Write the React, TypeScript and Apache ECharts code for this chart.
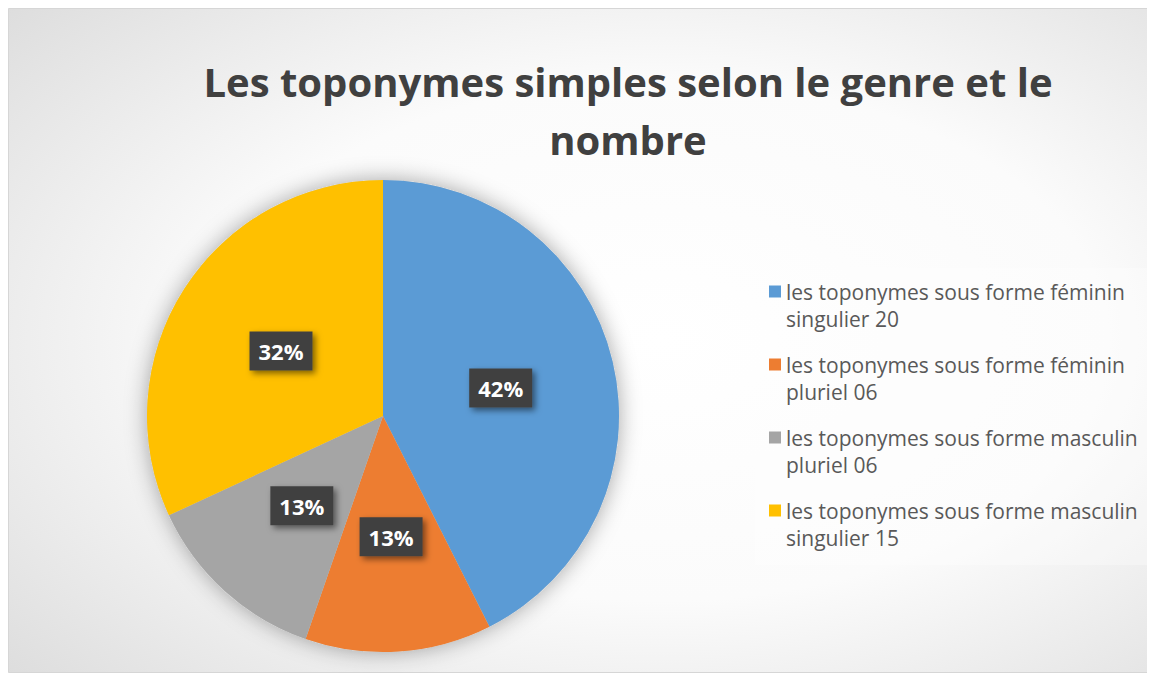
import React, { useEffect, useRef } from "react";
import * as echarts from "echarts";

const titleText = "Les toponymes simples selon le genre et le\nnombre";
const categories = [
  "les toponymes sous forme féminin singulier 20",
  "les toponymes sous forme féminin pluriel 06",
  "les toponymes sous forme masculin pluriel 06",
  "les toponymes sous forme masculin singulier 15",
];
const values = [20, 6, 6, 15];
const colors = ["#5B9BD5", "#ED7D31", "#A5A5A5", "#FFC000"];

const W = 1145;
const H = 665;

export default function App() {
  const ref = useRef<HTMLDivElement>(null);
  useEffect(() => {
    if (!ref.current) return;
    const chart = echarts.init(ref.current, null, { renderer: "svg" });
    const total = values.reduce((a, b) => a + b, 0);
    const legendIcon =
      "path://M0,0h0.01v0.01H0z M0,7.5h12v12H0z M11.99,53.99h0.01v0.01h-0.01z";
    chart.setOption({
      animation: false,
      backgroundColor: "#ffffff",
      title: {
        text: titleText,
        left: 620,
        top: 44,
        textAlign: "center",
        padding: 0,
        textStyle: {
          fontFamily: "Open Sans",
          fontWeight: "bold",
          fontSize: 40,
          lineHeight: 58,
          color: "#404040",
        },
      },
      graphic: [
        {
          type: "rect",
          z: -10,
          silent: true,
          shape: { x: 0.5, y: 0.5, width: W - 1, height: H - 1 },
          style: {
            fill: {
              type: "radial",
              x: 0.57,
              y: 0.5,
              r: 1.12,
              colorStops: [
                { offset: 0, color: "#ffffff" },
                { offset: 0.35, color: "#fbfbfb" },
                { offset: 1, color: "#c0c0c0" },
              ],
            },
            stroke: "#d6d6d6",
            lineWidth: 1,
          },
        },
        {
          type: "rect",
          z: 1,
          silent: true,
          shape: { x: 747, y: 260, width: 392, height: 297 },
          style: { fill: "rgba(255,255,255,0.3)" },
        },
      ],
      legend: {
        orient: "vertical",
        left: 761,
        top: 270,
        padding: 0,
        itemGap: 19,
        itemWidth: 12,
        itemHeight: 54,
        icon: legendIcon,
        data: categories,
        formatter: (name: string) => {
          const w = name.split(" ");
          return w.slice(0, w.length - 2).join(" ") + "\n" + w.slice(w.length - 2).join(" ");
        },
        textStyle: {
          fontFamily: "Open Sans",
          fontSize: 21,
          lineHeight: 27,
          color: "#595959",
        },
      },
      series: [
        {
          type: "pie",
          name: "shadow",
          silent: true,
          center: [375, 408],
          radius: 236,
          z: 1,
          label: { show: false },
          labelLine: { show: false },
          itemStyle: {
            color: "#cccccc",
            shadowBlur: 22,
            shadowColor: "rgba(0,0,0,0.35)",
          },
          data: [{ name: "total", value: total }],
        },
        {
          type: "pie",
          center: [375, 408],
          radius: 236,
          startAngle: 90,
          clockwise: true,
          percentPrecision: 0,
          z: 2,
          label: {
            show: true,
            position: "inside",
            formatter: "{d}%",
            fontFamily: "Open Sans",
            fontWeight: "bold",
            fontSize: 22,
            color: "#ffffff",
            backgroundColor: "#404040",
            padding: [9, 9, 8, 9],
            shadowBlur: 6,
            shadowColor: "rgba(0,0,0,0.5)",
            shadowOffsetX: 3,
            shadowOffsetY: 3,
          },
          labelLine: { show: false },
          data: categories.map((c, i) => ({
            name: c,
            value: values[i],
            itemStyle: { color: colors[i] },
          })),
        },
      ],
    });
    return () => chart.dispose();
  }, []);
  return <div ref={ref} style={{ width: W, height: H }} />;
}
